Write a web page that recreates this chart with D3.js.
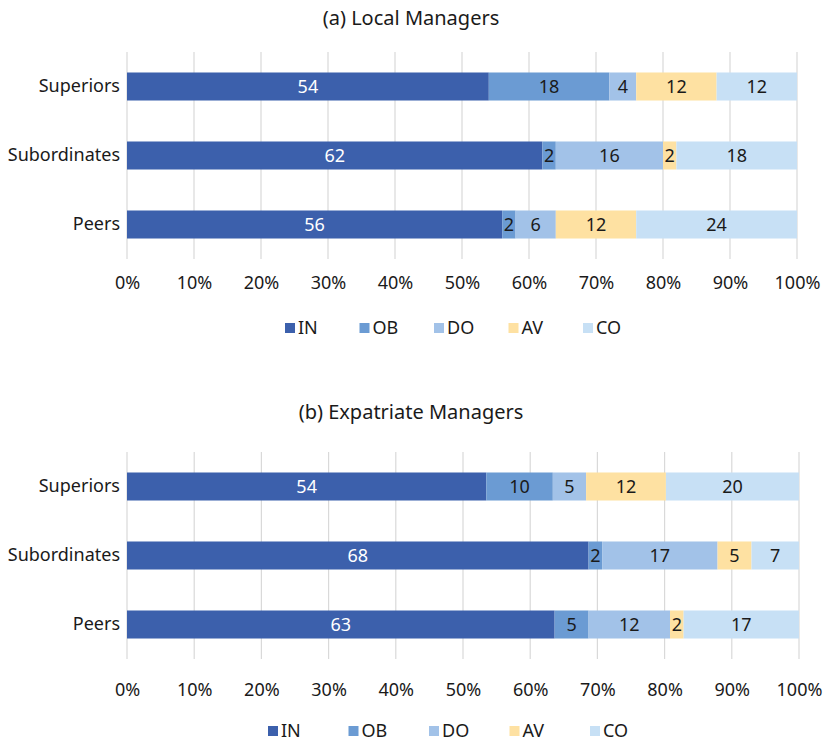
<!DOCTYPE html>
<html>
<head>
<meta charset="utf-8">
<script src="https://cdn.jsdelivr.net/npm/d3@7"></script>
<style>
  html, body { margin: 0; padding: 0; background: #fff; }
  svg text { font-family: "Noto Sans", "Open Sans", sans-serif; fill: #1a1a1a; }
</style>
</head>
<body>
<svg id="chart" width="827" height="744"></svg>
<script>
// ---- Data ----
const categories = ["Superiors", "Subordinates", "Peers"];
const seriesKeys = ["IN", "OB", "DO", "AV", "CO"];
const seriesColors = ["#3c60ac", "#6b9bd3", "#a2c2e8", "#fee1a2", "#c7e0f5"];
const labelColors = ["#ffffff", "#1a1a1a", "#1a1a1a", "#1a1a1a", "#1a1a1a"];
const tickValues = [0, 0.1, 0.2, 0.3, 0.4, 0.5, 0.6, 0.7, 0.8, 0.9, 1.0];
const tickLabels = ["0%", "10%", "20%", "30%", "40%", "50%", "60%", "70%", "80%", "90%", "100%"];

// (a) Local Managers
const localIN = [54, 62, 56];
const localOB = [18, 2, 2];
const localDO = [4, 16, 6];
const localAV = [12, 2, 12];
const localCO = [12, 18, 24];

// (b) Expatriate Managers
const expatIN = [54, 68, 63];
const expatOB = [10, 2, 5];
const expatDO = [5, 17, 12];
const expatAV = [12, 5, 2];
const expatCO = [20, 7, 17];

const panels = [
  { title: "(a) Local Managers", series: [localIN, localOB, localDO, localAV, localCO],
    titleY: 25, x0: 127, x1: 797, y0: 52, y1: 259, tickY: 289, legendY: 328, legendX: 285, legendStep: 74.5 },
  { title: "(b) Expatriate Managers", series: [expatIN, expatOB, expatDO, expatAV, expatCO],
    titleY: 419, x0: 127, x1: 799, y0: 452, y1: 659, tickY: 696, legendY: 731, legendX: 268, legendStep: 80.5 }
];

const svg = d3.select("#chart");
const FS = 18;

panels.forEach(p => {
  const rows = categories.map((c, i) => {
    const r = { category: c };
    seriesKeys.forEach((k, j) => r[k] = p.series[j][i]);
    return r;
  });
  const stacked = d3.stack().keys(seriesKeys).offset(d3.stackOffsetExpand)(rows);

  const x = d3.scaleLinear().domain([0, 1]).range([p.x0, p.x1]);
  const y = d3.scaleBand().domain(categories).range([p.y0, p.y1])
    .paddingInner(0.594).paddingOuter(0.297);

  const g = svg.append("g");

  // title
  g.append("text").attr("x", 411).attr("y", p.titleY)
    .attr("text-anchor", "middle").style("font-size", "20px").text(p.title);

  // gridlines
  g.append("g").selectAll("line").data(tickValues).join("line")
    .attr("x1", d => x(d)).attr("x2", d => x(d))
    .attr("y1", p.y0).attr("y2", p.y1)
    .attr("stroke", "#d9d9d9").attr("stroke-width", 1.2);

  // x axis tick labels
  const xAxis = d3.axisBottom(x).tickValues(tickValues)
    .tickFormat((d, i) => tickLabels[i]).tickSize(0).tickPadding(0);
  const ax = g.append("g").attr("transform", `translate(0,${p.tickY - 13})`).call(xAxis);
  ax.select(".domain").remove();
  ax.selectAll("text").attr("dy", "0.71em").style("font-size", FS + "px").style("font-family", "Noto Sans").attr("fill", "#1a1a1a");

  // y axis labels
  const yAxis = d3.axisLeft(y).tickSize(0).tickPadding(0);
  const ay = g.append("g").attr("transform", `translate(${p.x0 - 7},0)`).call(yAxis);
  ay.select(".domain").remove();
  ay.selectAll("text").style("font-size", FS + "px").style("font-family", "Noto Sans").attr("fill", "#1a1a1a");

  // bars
  stacked.forEach((layer, li) => {
    const lg = g.append("g");
    lg.selectAll("rect").data(layer).join("rect")
      .attr("x", d => x(d[0]))
      .attr("width", d => x(d[1]) - x(d[0]))
      .attr("y", d => y(d.data.category))
      .attr("height", y.bandwidth())
      .attr("fill", seriesColors[li]);
    lg.selectAll("text").data(layer).join("text")
      .attr("x", d => (x(d[0]) + x(d[1])) / 2)
      .attr("y", d => y(d.data.category) + y.bandwidth() / 2)
      .attr("dy", "0.35em")
      .attr("text-anchor", "middle")
      .style("font-size", FS + "px")
      .style("fill", labelColors[li])
      .text(d => d.data[layer.key]);
  });

  // legend
  const lgd = g.append("g");
  seriesKeys.forEach((k, i) => {
    const lx = p.legendX + i * p.legendStep;
    lgd.append("rect").attr("x", lx).attr("y", p.legendY - 5).attr("width", 10).attr("height", 10)
      .attr("fill", seriesColors[i]);
    lgd.append("text").attr("x", lx + 13).attr("y", p.legendY).attr("dy", "0.35em")
      .style("font-size", FS + "px").text(k);
  });
});
</script>
</body>
</html>
